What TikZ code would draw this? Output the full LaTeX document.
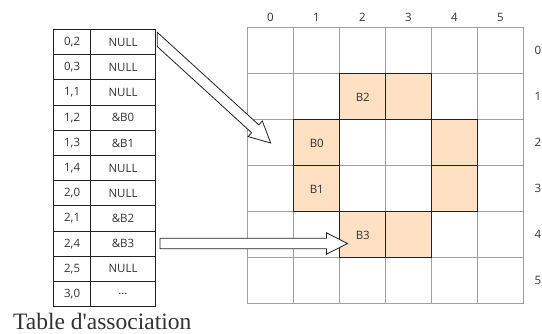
\documentclass[tikz,border=0pt]{standalone}
\usepackage{fontspec}
\setmainfont{Liberation Serif}
\newfontfamily\labelfont{Open Sans}
\definecolor{gridgray}{HTML}{A0A0A0}
\definecolor{cellfill}{HTML}{FFE0C2}
\definecolor{txt}{HTML}{333333}
\definecolor{edge}{HTML}{222222}
\tikzset{
  gridcell/.style={draw=gridgray, line width=1pt, minimum width=46pt, minimum height=46pt, inner sep=0pt, anchor=north west},
  hicell/.style={draw=edge, fill=cellfill, line width=1pt, minimum width=46pt, minimum height=46pt, inner sep=0pt, anchor=north west, text=txt, font=\labelfont\fontsize{11.5}{13}\selectfont},
  keycell/.style={draw=edge, line width=1pt, minimum width=36.7pt, minimum height=25.2pt, inner sep=0pt, anchor=north west, text=txt, font=\labelfont\fontsize{11.5}{13}\selectfont},
  valcell/.style={draw=edge, line width=1pt, minimum width=65pt, minimum height=25.2pt, inner sep=0pt, anchor=north west, text=txt, font=\labelfont\fontsize{11.5}{13}\selectfont},
  axislabel/.style={text=txt, font=\labelfont\fontsize{11.5}{13}\selectfont, inner sep=0pt},
  hollowarrow/.style={draw=edge, fill=white, line width=0.8pt, line join=miter},
}
\begin{document}
\begin{tikzpicture}[x=1pt, y=-1pt]
\useasboundingbox (0,0) rectangle (542,334);
% grid
\foreach \c in {0,...,5}{
  \foreach \r in {0,...,5}{
    \node[gridcell] (g\c\r) at ({247.3+46*\c},{27.5+46*\r}) {};
  }
}
% highlighted cells
\node[hicell] (h21) at ({247.3+46*2},{27.5+46*1}) {B2};
\node[hicell] (h31) at ({247.3+46*3},{27.5+46*1}) {};
\node[hicell] (h12) at ({247.3+46*1},{27.5+46*2}) {B0};
\node[hicell] (h42) at ({247.3+46*4},{27.5+46*2}) {};
\node[hicell] (h13) at ({247.3+46*1},{27.5+46*3}) {B1};
\node[hicell] (h43) at ({247.3+46*4},{27.5+46*3}) {};
\node[hicell] (h24) at ({247.3+46*2},{27.5+46*4}) {B3};
\node[hicell] (h34) at ({247.3+46*3},{27.5+46*4}) {};
% axis labels
\foreach \c in {0,1,2,3,4,5}{
  \node[axislabel] (col\c) at ({270.3+46*\c},17) {\c};
}
\foreach \r in {0,1,2,3,4,5}{
  \node[axislabel] (row\r) at (538,{50.5+46*\r}) {\r};
}
% association table
\foreach \k/\v [count=\i from 0] in {{0,2}/NULL, {0,3}/NULL, {1,1}/NULL, {1,2}/\&B0, {1,3}/\&B1, {1,4}/NULL, {2,0}/NULL, {2,1}/\&B2, {2,4}/\&B3, {2,5}/NULL, {3,0}/\ldots}{
  \node[keycell] (k\i) at (53.3,{29+25.2*\i}) {\k};
  \node[valcell] (v\i) at (90,{29+25.2*\i}) {\v};
}
% caption
\node[anchor=base west, inner sep=0pt, text=txt, font=\fontsize{23.5}{26}\selectfont] (caption) at (13,329.5) {Table d\textquotesingle association};
% arrows
\draw[hollowarrow] (157.3,32.3) -- (258.8,124.9) -- (262.3,121.0) -- (270.7,143) -- (248.1,136.6) -- (251.6,132.7) -- (157.3,46.6) -- cycle;
\draw[hollowarrow] (160,238.2) -- (326.5,238.2) -- (326.5,232.8) -- (347.5,243.5) -- (326.5,254.2) -- (326.5,248.8) -- (160,248.8) -- cycle;
\end{tikzpicture}
\end{document}
